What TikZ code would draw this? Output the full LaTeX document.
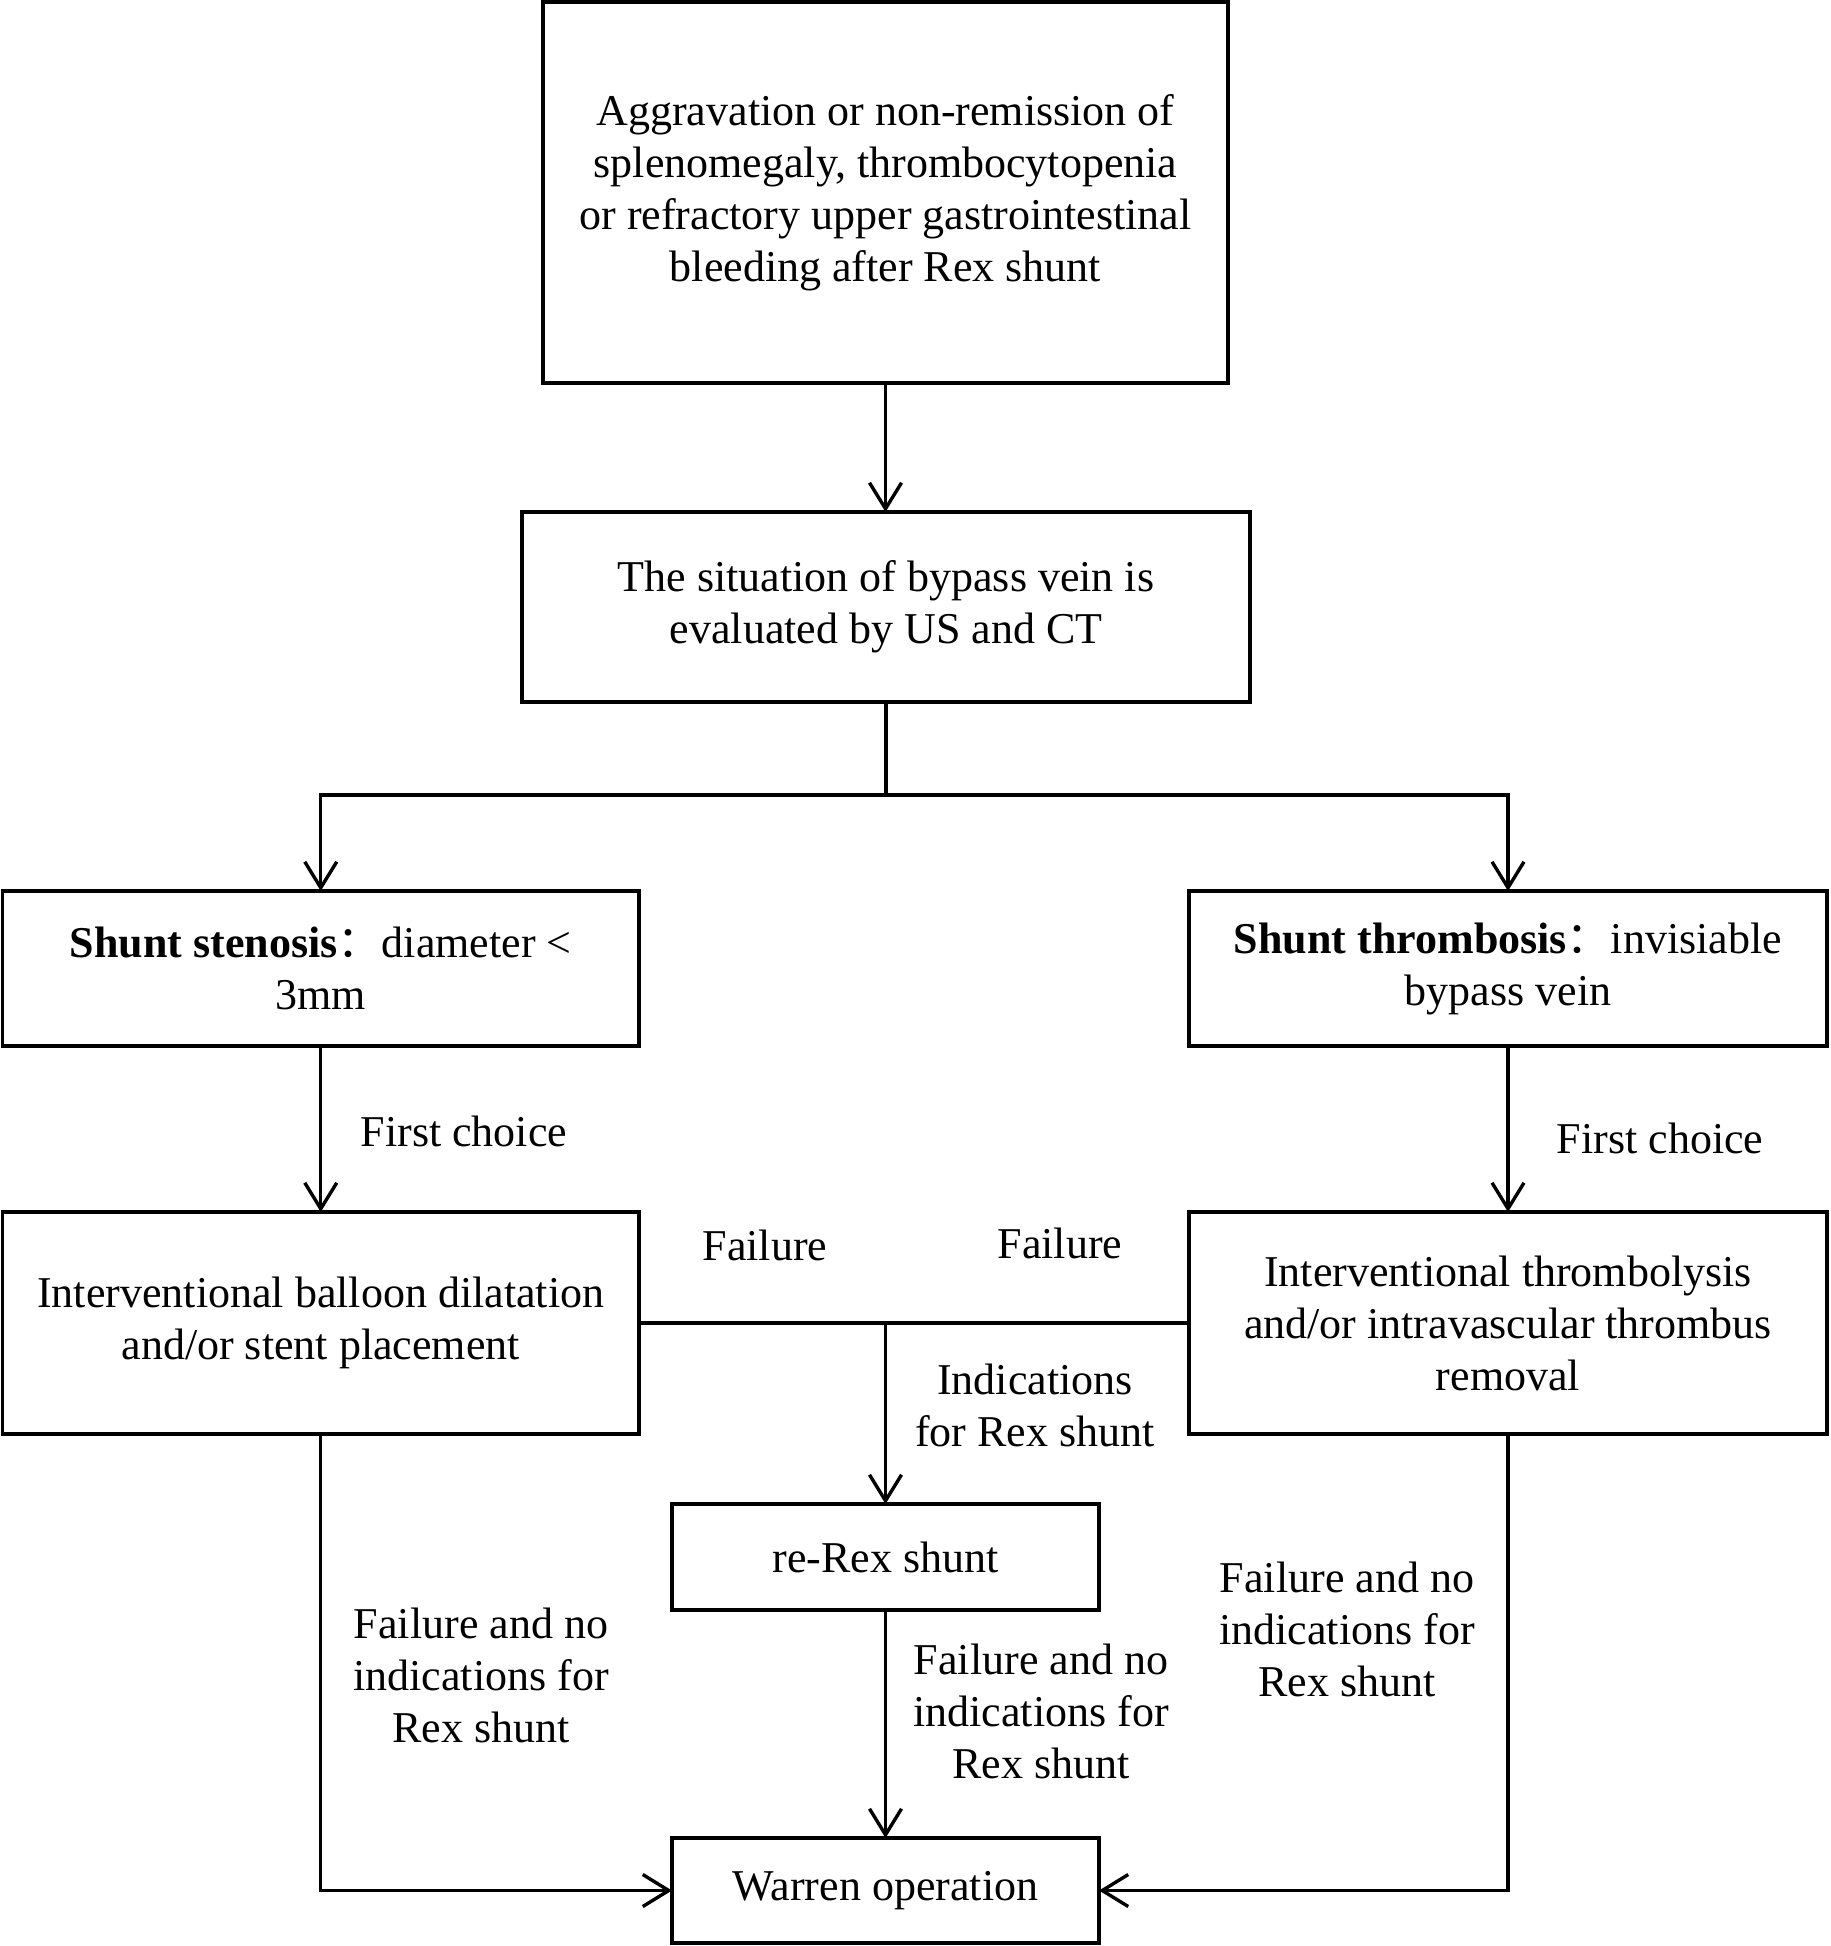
\documentclass[tikz,border=0pt]{standalone}
\usepackage{fontspec}
\setmainfont{Liberation Serif}
\newfontfamily\cjk{Noto Sans CJK SC}
\usetikzlibrary{arrows.meta}
\begin{document}
\begin{tikzpicture}[x=0.5pt,y=-0.5pt,
  txt/.style={font=\fontsize{22}{26}\selectfont},
  box/.style={txt,draw,line width=1.7pt,inner sep=0pt,outer sep=0pt,align=center},
  lbl/.style={txt,inner sep=0pt,align=center},
  conn/.style={line width=1.7pt},
  arr/.style={conn,-{Straight Barb[length=13pt,width=16pt]}}]
\useasboundingbox (0,0) rectangle (1830,1946);
\fill[white] (0,0) rectangle (1830,1946);

\node[box,minimum width=342.5pt,minimum height=190.5pt] (top) at (885.5,192.5)
  {Aggravation or non-remission of\\splenomegaly, thrombocytopenia\\or refractory upper gastrointestinal\\bleeding after Rex shunt};
\node[box,minimum width=364pt,minimum height=95pt] (box2) at (886,607)
  {The situation of bypass vein is\\evaluated by US and CT};
\node[box,minimum width=318.25pt,minimum height=77.5pt] (L1) at (320.75,968.5)
  {\textbf{Shunt stenosis}{\cjk\smash{：}}diameter <\\3mm};
\node[box,minimum width=319pt,minimum height=77.5pt] (R1) at (1508,968.5)
  {\textbf{Shunt thrombosis}{\cjk\smash{：}}invisiable\\bypass vein};
\node[box,minimum width=318.25pt,minimum height=111pt] (L2) at (320.75,1323)
  {Interventional balloon dilatation\\and/or stent placement};
\node[box,minimum width=319pt,minimum height=111pt] (R2) at (1508,1323)
  {Interventional thrombolysis\\and/or intravascular thrombus\\removal};
\node[box,minimum width=213.5pt,minimum height=53pt] (rerex) at (885.5,1557)
  {re-Rex shunt};
\node[box,minimum width=213.5pt,minimum height=52.5pt] (warren) at (885.5,1890.5)
  {Warren operation};

\coordinate (split) at (886,795);
\draw[arr] (top.south) -- (top.south |- box2.north);
\draw[conn] (box2.south) -- (split);
\draw[arr] (split) -| (L1.north);
\draw[arr] (split) -| (R1.north);
\draw[arr] (L1.south) -- (L2.north);
\draw[arr] (R1.south) -- (R2.north);
\draw[conn] (L2.east) -- (R2.west);
\coordinate (mid) at (rerex.north |- L2.east);
\draw[arr] (mid) -- (rerex.north);
\draw[arr] (rerex.south) -- (warren.north);
\draw[arr] (L2.south) |- (warren.west);
\draw[arr] (R2.south) |- (warren.east);

\node[lbl] (fc1) at (464,1131) {First choice};
\node[lbl] (fc2) at (1660,1138) {First choice};
\node[lbl] (f1) at (765,1245) {Failure};
\node[lbl] (f2) at (1060,1243) {Failure};
\node[lbl] (ind) at (1035,1405) {Indications\\for Rex shunt};
\node[lbl] (fm) at (1041,1711) {Failure and no\\indications for\\Rex shunt};
\node[lbl] (fl) at (481,1675) {Failure and no\\indications for\\Rex shunt};
\node[lbl] (fr) at (1347,1629) {Failure and no\\indications for\\Rex shunt};
\end{tikzpicture}
\end{document}
